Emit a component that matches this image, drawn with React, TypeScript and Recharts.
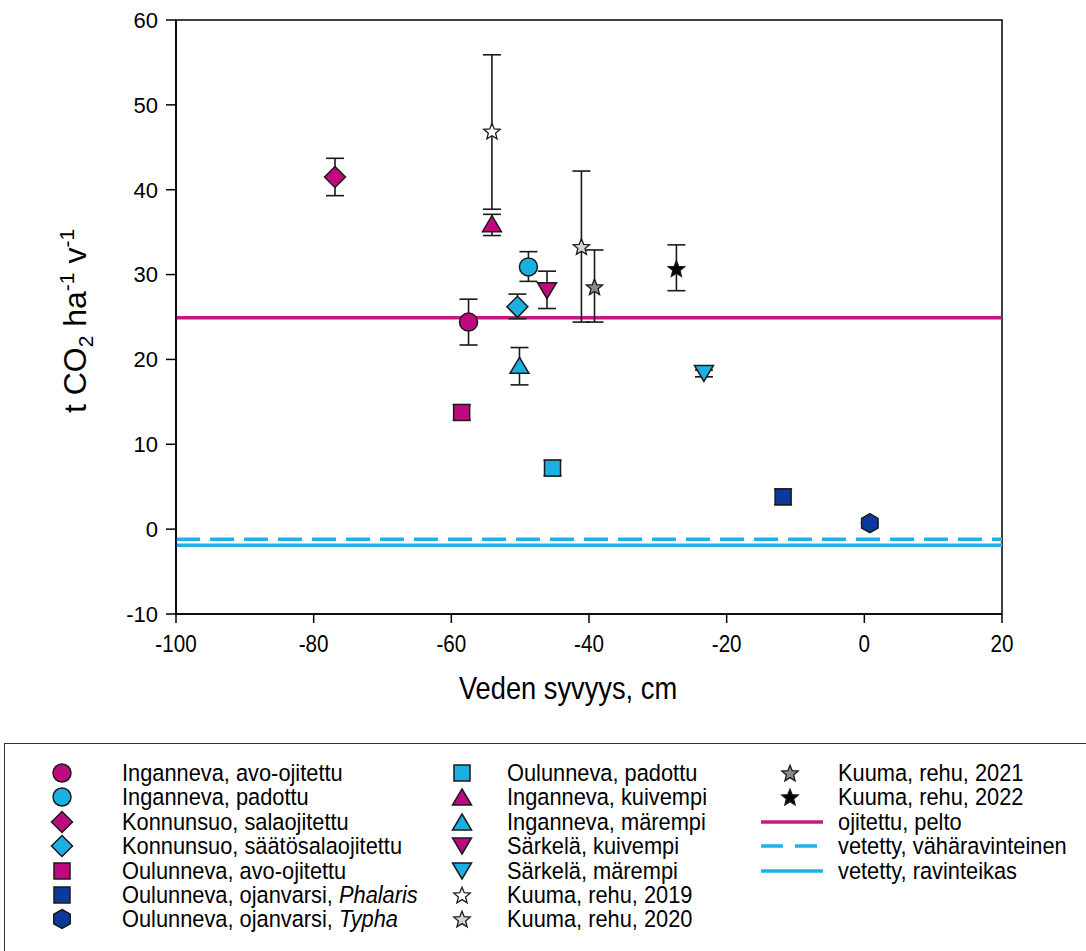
import React from 'react';
import { ScatterChart, Scatter, XAxis, YAxis, ErrorBar, ReferenceLine, ReferenceArea } from 'recharts';

// ---------- data ----------
const seriesNames = [
  'Inganneva, avo-ojitettu',
  'Inganneva, padottu',
  'Konnunsuo, salaojitettu',
  'Konnunsuo, säätösalaojitettu',
  'Oulunneva, avo-ojitettu',
  'Oulunneva, ojanvarsi, Phalaris',
  'Oulunneva, ojanvarsi, Typha',
  'Oulunneva, padottu',
  'Inganneva, kuivempi',
  'Inganneva, märempi',
  'Särkelä, kuivempi',
  'Särkelä, märempi',
  'Kuuma, rehu, 2019',
  'Kuuma, rehu, 2020',
  'Kuuma, rehu, 2021',
  'Kuuma, rehu, 2022',
];
const depthCm = [-57.5, -48.8, -76.9, -50.4, -58.5, -11.8, 0.8, -45.3, -54.1, -50.1, -46.1, -23.3, -54.1, -41.1, -39.2, -27.3];
const co2Flux = [24.4, 30.9, 41.5, 26.2, 13.75, 3.8, 0.7, 7.2, 36.0, 19.3, 28.1, 18.35, 46.9, 33.3, 28.55, 30.7];
const errLow = [2.7, 1.7, 2.2, 1.4, 0.9, 0.9, 0, 0.9, 1.4, 2.3, 2.1, 0.4, 9.2, 8.9, 4.15, 2.6];
const errHigh = [2.7, 1.8, 2.2, 1.5, 0.9, 0.9, 0, 0.9, 1.1, 2.1, 2.3, 0.4, 9.0, 8.9, 4.35, 2.8];

const refLineNames = ['ojitettu, pelto', 'vetetty, vähäravinteinen', 'vetetty, ravinteikas'];
const refLineValues = [24.9, -1.2, -1.9];

const xTicks = [-100, -80, -60, -40, -20, 0, 20];
const yTicks = [-10, 0, 10, 20, 30, 40, 50, 60];

// ---------- styles ----------
const MAG = '#C1097F';
const CYA = '#1CB0E2';
const NAV = '#0B3A9C';
type Kind = 'circle' | 'diamond' | 'square' | 'hexagon' | 'triUp' | 'triDown' | 'star';
const seriesStyles: { kind: Kind; fill: string }[] = [
  { kind: 'circle', fill: MAG },
  { kind: 'circle', fill: CYA },
  { kind: 'diamond', fill: MAG },
  { kind: 'diamond', fill: CYA },
  { kind: 'square', fill: MAG },
  { kind: 'square', fill: NAV },
  { kind: 'hexagon', fill: NAV },
  { kind: 'square', fill: CYA },
  { kind: 'triUp', fill: MAG },
  { kind: 'triUp', fill: CYA },
  { kind: 'triDown', fill: MAG },
  { kind: 'triDown', fill: CYA },
  { kind: 'star', fill: '#FFFFFF' },
  { kind: 'star', fill: '#D4D4D4' },
  { kind: 'star', fill: '#8A8A8A' },
  { kind: 'star', fill: '#000000' },
];
const lineStyles = [
  { stroke: '#C2187F', dash: undefined as string | undefined },
  { stroke: '#1EB2E4', dash: '24 10' },
  { stroke: '#1EB2E4', dash: undefined as string | undefined },
];

const STROKE = '#1a1a1a';

function markerPath(kind: Kind, cx: number, cy: number): React.ReactElement {
  const common = { stroke: STROKE, strokeWidth: 1.5 };
  switch (kind) {
    case 'circle':
      return <circle cx={cx} cy={cy} r={9} {...common} />;
    case 'diamond': {
      const r = 10.5;
      return <polygon points={`${cx},${cy - r} ${cx + r},${cy} ${cx},${cy + r} ${cx - r},${cy}`} {...common} />;
    }
    case 'square':
      return <rect x={cx - 8} y={cy - 8} width={16} height={16} {...common} />;
    case 'hexagon': {
      const r = 9.5;
      const pts = [-90, -30, 30, 90, 150, 210]
        .map((a) => `${cx + r * Math.cos((a * Math.PI) / 180)},${cy + r * Math.sin((a * Math.PI) / 180)}`)
        .join(' ');
      return <polygon points={pts} {...common} />;
    }
    case 'triUp':
      return <polygon points={`${cx},${cy - 8} ${cx + 9.5},${cy + 8} ${cx - 9.5},${cy + 8}`} {...common} />;
    case 'triDown':
      return <polygon points={`${cx},${cy + 8} ${cx + 9.5},${cy - 8} ${cx - 9.5},${cy - 8}`} {...common} />;
    case 'star': {
      const ro = 8.6;
      const ri = 3.8;
      const pts: string[] = [];
      for (let k = 0; k < 10; k++) {
        const r = k % 2 === 0 ? ro : ri;
        const a = ((-90 + k * 36) * Math.PI) / 180;
        pts.push(`${cx + r * Math.cos(a)},${cy + r * Math.sin(a) + 0.8}`);
      }
      return <polygon points={pts.join(' ')} {...common} strokeWidth={1.3} />;
    }
  }
}

function Marker(props: any) {
  const { cx, cy, kind, fill } = props;
  if (cx == null || cy == null) return null;
  const el = markerPath(kind, cx, cy);
  return React.cloneElement(el, { fill });
}

const FONT = '"Liberation Sans", Arial, Helvetica, sans-serif';

function XTick(props: any) {
  const { x, y, payload } = props;
  return (
    <text
      transform={`translate(${x}, ${y}) scale(0.86, 1)`}
      x={0}
      y={0}
      dy="0.71em"
      textAnchor="middle"
      fontFamily={FONT}
      fontSize={24}
      fill="#000"
    >
      {payload.value}
    </text>
  );
}

function XTitle(props: any) {
  const vb = props.viewBox || { x: 0, y: 0, width: 0, height: 0 };
  const cx = vb.x + vb.width / 2 - 21;
  const cy = vb.y + 85;
  return (
    <text
      transform={`translate(${cx}, ${cy}) scale(0.88, 1)`}
      x={0}
      y={0}
      textAnchor="middle"
      fontFamily={FONT}
      fontSize={31}
      fill="#000"
    >
      Veden syvyys, cm
    </text>
  );
}

function YTitle(props: any) {
  const vb = props.viewBox || { x: 0, y: 0, width: 0, height: 0 };
  const cx = 86;
  const cy = vb.y + vb.height / 2 + 4;
  return (
    <text
      x={cx}
      y={cy}
      transform={`rotate(-90, ${cx}, ${cy})`}
      textAnchor="middle"
      fontFamily={FONT}
      fontSize={32}
      fill="#000"
    >
      <tspan>t CO</tspan>
      <tspan fontSize={21} dy={7}>2</tspan>
      <tspan dy={-7}> ha</tspan>
      <tspan fontSize={21} dy={-12}>-1</tspan>
      <tspan dy={12}> v</tspan>
      <tspan fontSize={21} dy={-12}>-1</tspan>
    </text>
  );
}

function LegendIcon({ kind, fill }: { kind: Kind; fill: string }) {
  return (
    <svg width={24} height={24} style={{ display: 'block' }}>
      {React.cloneElement(markerPath(kind, 12, 12), { fill })}
    </svg>
  );
}

function LineIcon({ stroke, dash }: { stroke: string; dash?: string }) {
  return (
    <svg width={64} height={24} style={{ display: 'block' }}>
      <line x1={1} y1={12} x2={63} y2={12} stroke={stroke} strokeWidth={3.5} strokeDasharray={dash} />
    </svg>
  );
}

function legendLabel(name: string) {
  const m = name.match(/^(.*, )(Phalaris|Typha)$/);
  if (m) {
    return (
      <>
        {m[1]}
        <i>{m[2]}</i>
      </>
    );
  }
  return name;
}

export default function App() {
  const series = seriesNames.map((name, i) => ({
    name,
    style: seriesStyles[i],
    data: [{ x: depthCm[i], y: co2Flux[i], err: [errLow[i], errHigh[i]] }],
  }));

  const ROW0 = 773;
  const ROWH = 24.4;
  const col1 = seriesNames.slice(0, 7).map((n, i) => ({ n, i }));
  const col2 = seriesNames.slice(7, 14).map((n, k) => ({ n, i: k + 7 }));
  const col3 = seriesNames.slice(14, 16).map((n, k) => ({ n, i: k + 14 }));

  const textStyle: React.CSSProperties = {
    position: 'absolute',
    fontFamily: FONT,
    fontSize: 24.5,
    lineHeight: '24px',
    whiteSpace: 'nowrap',
    color: '#000',
    transform: 'scale(0.89, 1)',
    transformOrigin: '0 50%',
  };

  return (
    <div
      style={{
        position: 'absolute',
        left: 0,
        top: 0,
        width: 1086,
        height: 951,
        overflow: 'hidden',
        background: '#fff',
      }}
    >
      <ScatterChart width={1086} height={720} margin={{ top: 20, right: 84, bottom: 6, left: 0 }}>
        <XAxis
          type="number"
          dataKey="x"
          domain={[-100, 20]}
          ticks={xTicks}
          allowDataOverflow
          height={100}
          tickSize={9}
          tickMargin={12}
          axisLine={{ stroke: '#000', strokeWidth: 1.5 }}
          tickLine={{ stroke: '#000', strokeWidth: 1.5 }}
          tick={(p: any) => <XTick {...p} />}
          label={(p: any) => <XTitle {...p} />}
        />
        <YAxis
          type="number"
          dataKey="y"
          domain={[-10, 60]}
          ticks={yTicks}
          allowDataOverflow
          width={176}
          tickSize={10}
          tickMargin={8}
          axisLine={{ stroke: '#000', strokeWidth: 1.5 }}
          tickLine={{ stroke: '#000', strokeWidth: 1.5 }}
          tick={{ fontSize: 22, fill: '#000', fontFamily: FONT }}
          label={(p: any) => <YTitle {...p} />}
        />
        <ReferenceArea x1={-100} x2={20} y1={-10} y2={60} fill="none" fillOpacity={0} stroke="#000" strokeWidth={1.5} />
        {refLineValues.map((v, i) => (
          <ReferenceLine
            key={refLineNames[i]}
            y={v}
            stroke={lineStyles[i].stroke}
            strokeWidth={3.5}
            strokeDasharray={lineStyles[i].dash}
          />
        ))}
        {series.map((s) => (
          <Scatter
            key={s.name}
            name={s.name}
            data={s.data}
            isAnimationActive={false}
            shape={(p: any) => <Marker {...p} kind={s.style.kind} fill={s.style.fill} />}
          >
            <ErrorBar dataKey="err" direction="y" width={9} stroke="#1a1a1a" strokeWidth={1.6} />
          </Scatter>
        ))}
      </ScatterChart>

      {/* legend box */}
      <div
        style={{
          position: 'absolute',
          left: 4,
          top: 743,
          width: 1100,
          height: 240,
          border: '1.5px solid #333',
          boxSizing: 'border-box',
        }}
      />
      {col1.map(({ n, i }, r) => (
        <React.Fragment key={n}>
          <div style={{ position: 'absolute', left: 62 - 12, top: ROW0 + r * ROWH - 12 }}>
            <LegendIcon kind={seriesStyles[i].kind} fill={seriesStyles[i].fill} />
          </div>
          <div style={{ ...textStyle, left: 122, top: ROW0 + r * ROWH - 12 }}>{legendLabel(n)}</div>
        </React.Fragment>
      ))}
      {col2.map(({ n, i }, r) => (
        <React.Fragment key={n}>
          <div style={{ position: 'absolute', left: 462 - 12, top: ROW0 + r * ROWH - 12 }}>
            <LegendIcon kind={seriesStyles[i].kind} fill={seriesStyles[i].fill} />
          </div>
          <div style={{ ...textStyle, left: 507, top: ROW0 + r * ROWH - 12 }}>{legendLabel(n)}</div>
        </React.Fragment>
      ))}
      {col3.map(({ n, i }, r) => (
        <React.Fragment key={n}>
          <div style={{ position: 'absolute', left: 790 - 12, top: ROW0 + r * ROWH - 12 }}>
            <LegendIcon kind={seriesStyles[i].kind} fill={seriesStyles[i].fill} />
          </div>
          <div style={{ ...textStyle, left: 838, top: ROW0 + r * ROWH - 12 }}>{legendLabel(n)}</div>
        </React.Fragment>
      ))}
      {refLineNames.map((n, k) => (
        <React.Fragment key={n}>
          <div style={{ position: 'absolute', left: 760, top: ROW0 + (k + 2) * ROWH - 12 }}>
            <LineIcon stroke={lineStyles[k].stroke} dash={lineStyles[k].dash ? '22 12' : undefined} />
          </div>
          <div style={{ ...textStyle, left: 838, top: ROW0 + (k + 2) * ROWH - 12 }}>{n}</div>
        </React.Fragment>
      ))}
    </div>
  );
}
